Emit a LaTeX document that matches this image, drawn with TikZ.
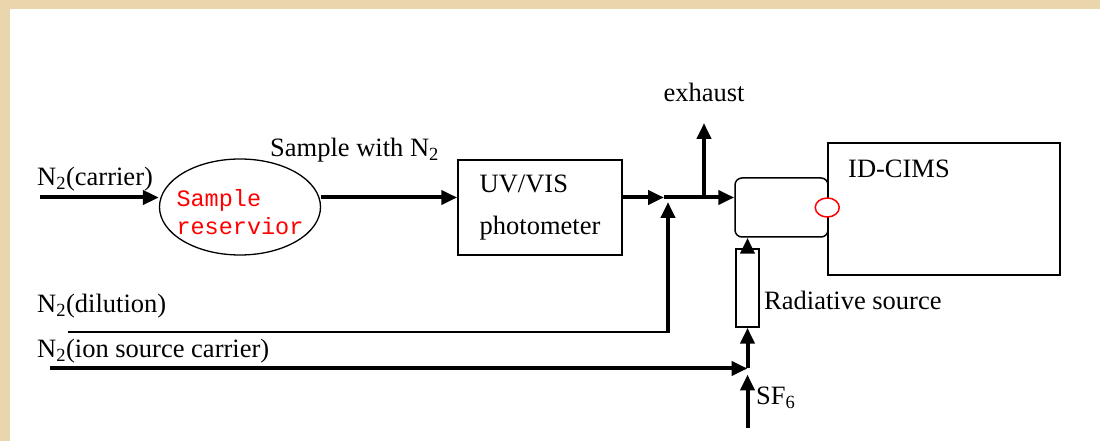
\documentclass[tikz,border=0pt]{standalone}
\usepackage{fontspec}
\setmainfont{Liberation Serif}
\newfontfamily\resfont{Liberation Mono}
\usetikzlibrary{arrows.meta,positioning,shapes.geometric}
\definecolor{parchment}{RGB}{233,214,172}

\begin{document}
\begin{tikzpicture}[
  x=1pt, y=1pt,
  font=\fontsize{26.5}{30}\selectfont,
  block/.style={draw, line width=1.5pt, inner sep=0pt},
  line/.style={-{Triangle[length=16pt,width=14pt]}, line width=4pt},
  pipe/.style={line width=2.2pt},
  lbl/.style={inner sep=0pt, anchor=base west}
]
\fill[parchment] (0,0) rectangle (1100,441);
\fill[white] (10,0) rectangle (1100,432);

\node[block, ellipse, line width=1.3pt, minimum width=161pt, minimum height=96pt] (res) at (240,234) {};
\node[align=left, text=red, inner sep=0pt, font=\resfont\fontsize{23.5}{28}\selectfont] (restext) at ([yshift=-5pt]res.center) {Sample\\reservior};
\node[block, minimum width=164pt, minimum height=95pt, align=left] (uv) at (540,233.5) {UV/VIS\\[12pt]photometer};
\node[block, rounded corners=7pt, minimum width=93pt, minimum height=59pt] (ion) at (781.5,233.5) {};
\node[block, minimum width=232pt, minimum height=132pt] (cims) at (944,232) {};
\node[block, minimum width=23pt, minimum height=78pt] (rad) at (747.5,153) {};
\node[draw=red, fill=white, line width=1.5pt, ellipse, minimum width=24pt, minimum height=19pt, inner sep=0pt] (inlet) at (cims.west |- ion.center) {};

\coordinate (carrier) at (40,243.5);
\coordinate (mix) at (664,243.5);
\coordinate (split) at (704,243.5);
\coordinate (exhaust) at (704,318);
\coordinate (dilution) at (68,109);
\coordinate (mixin) at (668,239);
\coordinate (ioncarrier) at (50,72.5);
\coordinate (sfjoin) at (747.5,72.5);
\coordinate (sf6) at (747.5,13);

\draw[line] (carrier) -- (carrier -| res.west);
\draw[line] (carrier -| res.east) -- (carrier -| uv.west);
\draw[line] (carrier -| uv.east) -- (mix);
\draw[line] (mix) -- (carrier -| ion.west);
\draw[line] (split) -- (exhaust);
\draw[pipe] (dilution) -- ([xshift=2pt]dilution -| mixin);
\draw[line] (dilution -| mixin) -- (mixin);
\draw[line] (ioncarrier) -- (sfjoin);
\draw[line] (sf6) -- ([yshift=-6pt]sfjoin);
\draw[line] (sfjoin) -- (rad.south);
\draw[line] (rad.north) -- (rad.north |- ion.south);

\node[lbl] (carrierlabel) at (37,255) {N\textsubscript{2}(carrier)};
\node[lbl] (samplelabel) at (270,284) {Sample with N\textsubscript{2}};
\node[inner sep=0pt, above=21pt of exhaust] (exhaustlabel) {exhaust};
\node[lbl] (cimslabel) at (848,263) {ID-CIMS};
\node[lbl] (radlabel) at (764,131) {Radiative source};
\node[lbl] (dilutionlabel) at (37,128) {N\textsubscript{2}(dilution)};
\node[lbl] (ioncarrierlabel) at (37,83) {N\textsubscript{2}(ion source carrier)};
\node[lbl] (sflabel) at (756,36) {SF\textsubscript{6}};
\end{tikzpicture}
\end{document}
